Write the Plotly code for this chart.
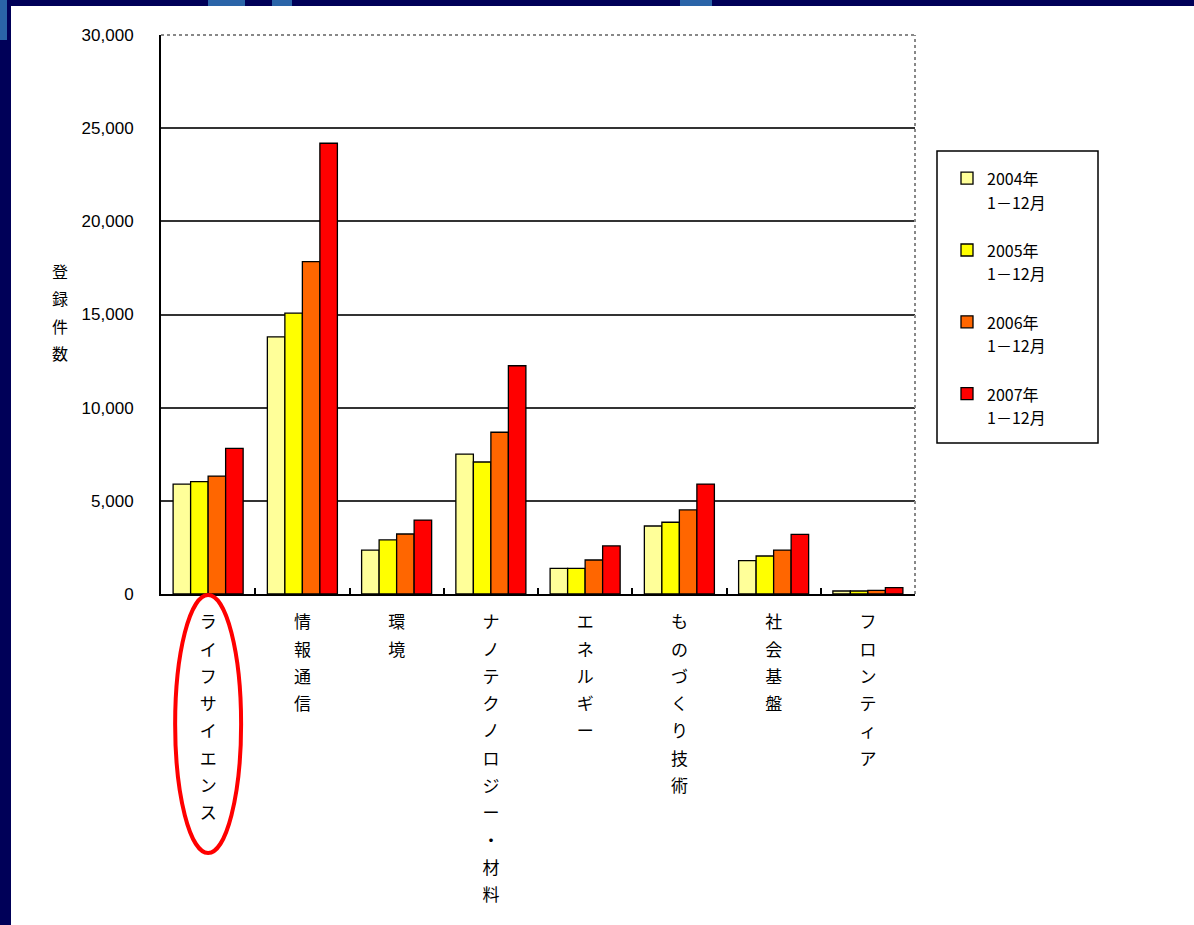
import plotly.graph_objects as go

# ---- data ----
categories = ["ライフサイエンス", "情報通信", "環境", "ナノテクノロジー・材料",
              "エネルギー", "ものづくり技術", "社会基盤", "フロンティア"]
series_names = ["2004年<br>1－12月", "2005年<br>1－12月", "2006年<br>1－12月", "2007年<br>1－12月"]
v2004 = [5900, 13800, 2360, 7510, 1380, 3650, 1790, 160]
v2005 = [6030, 15070, 2900, 7085, 1380, 3850, 2040, 160]
v2006 = [6330, 17840, 3220, 8680, 1825, 4510, 2360, 190]
v2007 = [7820, 24190, 3970, 12250, 2580, 5900, 3200, 340]
series_values = [v2004, v2005, v2006, v2007]
colors = ["#FFFF99", "#FFFF00", "#FF6600", "#FF0000"]
y_ticks = [0, 5000, 10000, 15000, 20000, 25000, 30000]
y_tick_labels = ["0", "5,000", "10,000", "15,000", "20,000", "25,000", "30,000"]
y_title = "登録件数"


def stack(text, size):
    """Vertical text: one character per line, glyph size smaller than line pitch."""
    return "<br>".join('<span style="font-size:%dpx">%s</span>' % (size, ch) for ch in text)


def legend_text(text, size):
    return "<br>".join('<span style="font-size:%dpx">%s</span>' % (size, ln) for ln in text.split("<br>"))


vertical_labels = [stack(c, 17) for c in categories]

fig = go.Figure()
for name, vals, col in zip(series_names, series_values, colors):
    fig.add_trace(go.Bar(
        x=categories, y=vals, name=legend_text(name, 16), legendgroup=name,
        marker=dict(color=col, line=dict(color="black", width=1.3)),
    ))

W, H = 1194, 925
L, R, T, B = 161, 279, 35, 331
pw, ph = W - L - R, H - T - B


def px(x):
    return (x - L) / pw


def py(y):
    return (H - B - y) / ph


navy = "#000058"
light = "#2a64a8"
shapes = [
    # navy frame
    dict(type="rect", xref="paper", yref="paper", x0=px(-5), x1=px(11), y0=py(930), y1=py(-5),
         fillcolor=navy, line=dict(width=0), layer="below"),
    dict(type="rect", xref="paper", yref="paper", x0=px(-5), x1=px(1200), y0=py(6), y1=py(-5),
         fillcolor=navy, line=dict(width=0), layer="below"),
    # lighter arcs in frame
    dict(type="rect", xref="paper", yref="paper", x0=px(208), x1=px(245), y0=py(6), y1=py(-5),
         fillcolor=light, line=dict(width=0), layer="below"),
    dict(type="rect", xref="paper", yref="paper", x0=px(272), x1=px(292), y0=py(6), y1=py(-5),
         fillcolor=light, line=dict(width=0), layer="below"),
    dict(type="rect", xref="paper", yref="paper", x0=px(680), x1=px(712), y0=py(6), y1=py(-5),
         fillcolor=light, line=dict(width=0), layer="below"),
    dict(type="rect", xref="paper", yref="paper", x0=px(0), x1=px(7), y0=py(40), y1=py(-5),
         fillcolor=light, line=dict(width=0), layer="below"),
    # cover top gridline, then dotted top/right borders
    dict(type="line", xref="paper", yref="paper", x0=0, x1=1, y0=1, y1=1,
         line=dict(color="white", width=3)),
    dict(type="line", xref="paper", yref="paper", x0=0, x1=1, y0=1, y1=1,
         line=dict(color="#888888", width=2, dash="dot")),
    dict(type="line", xref="paper", yref="paper", x0=1, x1=1, y0=0, y1=1,
         line=dict(color="#888888", width=2, dash="dot")),
    # legend box
    dict(type="rect", xref="paper", yref="paper", x0=px(937), x1=px(1098), y0=py(443), y1=py(151),
         fillcolor="white", line=dict(color="black", width=1.5), layer="below"),
    # red ellipse
    dict(type="circle", xref="x", yref="paper", x0=-0.35, x1=0.35, y0=py(853), y1=py(595),
         line=dict(color="#FF0000", width=4)),
]

fig.update_layout(
    width=W, height=H,
    margin=dict(l=L, r=R, t=T, b=B, pad=0),
    paper_bgcolor="white", plot_bgcolor="white",
    barmode="group", bargap=0.257, bargroupgap=0,
    font=dict(family="Noto Sans CJK JP", color="black"),
    showlegend=True,
    legend=dict(
        x=px(947), y=py(160), xanchor="left", yanchor="top",
        bgcolor="rgba(0,0,0,0)", borderwidth=0,
        font=dict(family="Noto Sans CJK JP", size=18, color="black"),
        traceorder="grouped", tracegroupgap=22, valign="top",
    ),
    shapes=shapes,
    annotations=[
        dict(text=stack(y_title, 16), xref="paper", yref="paper",
             x=px(60), y=py(312), xanchor="center", yanchor="middle", showarrow=False,
             font=dict(family="Noto Sans CJK JP", size=21, color="black")),
    ],
)

fig.update_xaxes(
    type="category", tickvals=categories, ticktext=vertical_labels, tickangle=0,
    showline=True, linecolor="black", linewidth=2,
    ticks="inside", tickson="boundaries", ticklen=6, tickwidth=1.5, tickcolor="black",
    showgrid=False, ticklabelstandoff=7,
    tickfont=dict(family="Noto Sans CJK JP", size=21, color="black"),
)
fig.update_yaxes(
    range=[0, 30000], tickvals=y_ticks, ticktext=y_tick_labels,
    showline=True, linecolor="black", linewidth=2,
    showgrid=True, gridcolor="#333333", gridwidth=1.5,
    zeroline=False, ticks="", ticklabelstandoff=22,
    tickfont=dict(family="Liberation Sans", size=17, color="black"),
)

fig.write_html("out.html")
